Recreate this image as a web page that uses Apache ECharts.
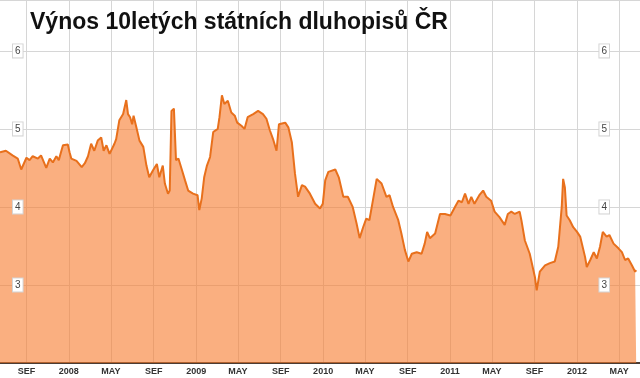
<!DOCTYPE html>
<html>
<head>
<meta charset="utf-8">
<script src="https://cdn.jsdelivr.net/npm/echarts@6/dist/echarts.min.js"></script>
<style>
  html, body { margin: 0; padding: 0; background: #fff; }
  #chart { width: 640px; height: 378px; }
</style>
</head>
<body>
<div id="chart"></div>
<script>
// ---- data ----
const chartTitle = 'Výnos 10letých státních dluhopisů ČR';
const axisStart = '2007-06-17';
const axisEnd = '2012-06-30';
const monthLabels = { '09': 'SEF', '05': 'MAY' }; // January shows the year
const yTicks = [3, 4, 5, 6];

const dates = [
  '2007-06-17','2007-07-04','2007-07-09','2007-07-23','2007-08-07','2007-08-17','2007-09-01','2007-09-10','2007-09-19','2007-10-04',
  '2007-10-13','2007-10-28','2007-11-07','2007-11-16','2007-11-26','2007-12-03','2007-12-15','2007-12-29','2008-01-03','2008-01-08',
  '2008-01-23','2008-02-07','2008-02-16','2008-02-25','2008-03-05','2008-03-14','2008-03-24','2008-04-03','2008-04-10','2008-04-18',
  '2008-04-27','2008-05-11','2008-05-16','2008-05-25','2008-06-05','2008-06-14','2008-06-19','2008-06-25','2008-07-01','2008-07-05',
  '2008-07-13','2008-07-22','2008-08-02','2008-08-11','2008-08-19','2008-08-30','2008-09-10','2008-09-17','2008-09-27','2008-10-03',
  '2008-10-12','2008-10-17','2008-10-22','2008-10-29','2008-11-04','2008-11-11','2008-11-20','2008-11-30','2008-12-09','2008-12-23',
  '2009-01-05','2009-01-10','2009-01-17','2009-01-24','2009-02-01','2009-02-10','2009-02-19','2009-03-04','2009-03-09','2009-03-16',
  '2009-03-23','2009-04-02','2009-04-12','2009-04-22','2009-04-29','2009-05-11','2009-05-20','2009-05-29','2009-06-14','2009-06-28',
  '2009-07-12','2009-07-22','2009-08-01','2009-08-10','2009-08-20','2009-08-27','2009-09-14','2009-09-23','2009-10-03','2009-10-12',
  '2009-10-21','2009-11-01','2009-11-10','2009-11-24','2009-12-09','2009-12-23','2009-12-31','2010-01-07','2010-01-16','2010-02-05',
  '2010-02-15','2010-02-28','2010-03-13','2010-03-27','2010-04-07','2010-04-16','2010-04-26','2010-05-05','2010-05-14','2010-05-24',
  '2010-06-04','2010-06-18','2010-07-02','2010-07-11','2010-07-21','2010-08-05','2010-08-14','2010-08-24','2010-09-03','2010-09-13',
  '2010-09-27','2010-10-11','2010-10-20','2010-10-27','2010-11-04','2010-11-19','2010-12-03','2010-12-17','2011-01-02','2011-01-15',
  '2011-01-25','2011-02-04','2011-02-13','2011-02-23','2011-03-03','2011-03-12','2011-03-26','2011-04-06','2011-04-15','2011-04-29',
  '2011-05-09','2011-05-23','2011-06-07','2011-06-16','2011-06-26','2011-07-06','2011-07-20','2011-07-25','2011-08-04','2011-08-18',
  '2011-09-02','2011-09-07','2011-09-16','2011-10-01','2011-10-15','2011-10-29','2011-11-08','2011-11-18','2011-11-22','2011-11-27',
  '2011-12-02','2011-12-11','2011-12-21','2012-01-01','2012-01-10','2012-01-24','2012-01-29','2012-02-08','2012-02-18','2012-02-27',
  '2012-03-07','2012-03-15','2012-03-26','2012-04-03','2012-04-15','2012-04-29','2012-05-09','2012-05-18','2012-05-27','2012-06-07',
  '2012-06-16','2012-06-19'
];
const yields = [
  4.70,4.72,4.74,4.66,4.62,4.48,4.63,4.60,4.65,4.62,
  4.66,4.50,4.62,4.57,4.65,4.60,4.79,4.80,4.70,4.62,
  4.59,4.51,4.56,4.65,4.81,4.72,4.85,4.89,4.72,4.79,
  4.68,4.81,4.87,5.11,5.19,5.37,5.19,5.15,5.06,5.17,
  5.02,4.85,4.77,4.53,4.38,4.47,4.55,4.38,4.53,4.30,
  4.17,4.21,5.23,5.26,4.60,4.62,4.49,4.34,4.21,4.17,
  4.15,3.96,4.11,4.38,4.53,4.64,4.96,5.00,5.15,5.43,
  5.32,5.36,5.21,5.17,5.08,5.04,5.00,5.15,5.19,5.23,
  5.19,5.13,4.98,4.87,4.72,5.06,5.08,5.02,4.83,4.43,
  4.13,4.28,4.26,4.17,4.04,3.98,4.04,4.34,4.45,4.48,
  4.38,4.13,4.13,4.00,3.79,3.60,3.74,3.85,3.83,4.08,
  4.36,4.30,4.13,4.15,4.00,3.83,3.66,3.45,3.30,3.40,
  3.42,3.40,3.53,3.68,3.60,3.66,3.91,3.91,3.89,4.00,
  4.08,4.06,4.17,4.04,4.13,4.04,4.15,4.21,4.13,4.08,
  3.94,3.87,3.77,3.91,3.94,3.91,3.94,3.83,3.57,3.40,
  3.10,2.93,3.17,3.25,3.28,3.30,3.49,4.00,4.36,4.25,
  3.89,3.83,3.74,3.68,3.62,3.36,3.23,3.32,3.42,3.34,
  3.49,3.68,3.62,3.64,3.53,3.47,3.42,3.32,3.34,3.25,
  3.17,3.19
];

// ---- daily categories for the axis ----
const days = [];
{
  const s = new Date(axisStart + 'T00:00:00Z').getTime();
  const e = new Date(axisEnd + 'T00:00:00Z').getTime();
  for (let t = s; t <= e; t += 86400000) days.push(new Date(t).toISOString().slice(0, 10));
}
const isTick = (v) => /-(01|05|09)-01$/.test(v);
const tickLabel = (v) => {
  const m = v.slice(5, 7);
  return m === '01' ? v.slice(0, 4) : monthLabels[m];
};

const seriesData = dates.map((d, i) => [d, yields[i]]);

const yRange = { type: 'value', min: 2, max: 6.652, interval: 1 };
const yLabelStyle = {
  inside: true,
  color: '#444',
  fontSize: 10,
  fontFamily: 'Liberation Sans, Arial, sans-serif',
  backgroundColor: '#fff',
  borderColor: '#d4d4d4',
  borderWidth: 1,
  padding: [2, 2, 1, 2],
  showMinLabel: false,
  showMaxLabel: false,
  formatter: (v) => (yTicks.indexOf(v) >= 0 ? String(v) : '')
};
const labelAxis = (pos, margin) => Object.assign({}, yRange, {
  position: pos,
  z: 10,
  axisLine: { show: false },
  axisTick: { show: false },
  splitLine: { show: false },
  axisLabel: Object.assign({}, yLabelStyle, { margin: margin })
});

const chart = echarts.init(document.getElementById('chart'), null, { renderer: 'canvas' });
chart.setOption({
  animation: false,
  backgroundColor: '#fff',
  grid: { left: 0, right: 0, top: -1, bottom: 15, containLabel: false },
  graphic: [{
    type: 'text',
    z: 100,
    style: {
      text: chartTitle,
      x: 30,
      y: 23,
      verticalAlign: 'middle',
      font: 'bold 23px "Liberation Sans", Arial, sans-serif',
      fill: '#111'
    }
  }],
  xAxis: {
    type: 'category',
    data: days,
    boundaryGap: false,
    axisLine: { show: true, lineStyle: { color: '#4a3c34', width: 2 } },
    axisTick: { show: false },
    axisLabel: {
      interval: (i, v) => isTick(v),
      formatter: tickLabel,
      color: '#333',
      fontSize: 9,
      fontWeight: 'bold',
      fontFamily: 'Liberation Sans, Arial, sans-serif',
      margin: 4
    },
    splitLine: {
      show: true,
      interval: (i, v) => isTick(v),
      lineStyle: { color: '#d6d6d6', width: 1 }
    }
  },
  yAxis: [
    Object.assign({}, yRange, {
      position: 'left',
      axisLine: { show: false },
      axisTick: { show: false },
      axisLabel: { show: false },
      splitLine: { show: true, lineStyle: { color: '#d6d6d6', width: 1 } }
    }),
    labelAxis('left', 13),
    labelAxis('right', 31)
  ],
  series: [{
    type: 'line',
    data: seriesData,
    showSymbol: false,
    symbol: 'none',
    lineStyle: { color: '#E8701C', width: 2 },
    areaStyle: { color: '#F67A2C', opacity: 0.6 },
    z: 2
  }]
});
</script>
</body>
</html>
